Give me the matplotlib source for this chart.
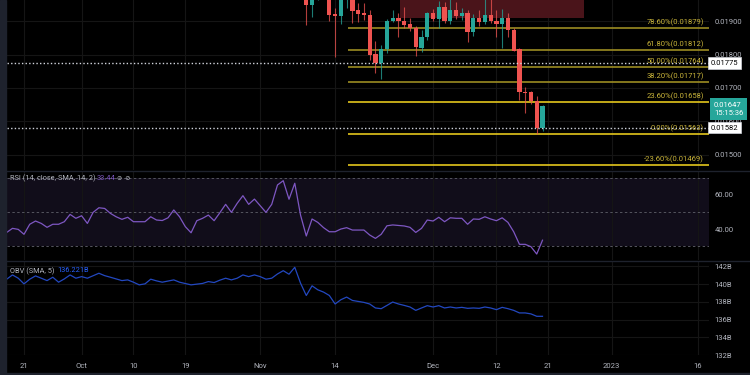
import numpy as np
import pandas as pd
import matplotlib
matplotlib.use("Agg")
import matplotlib.pyplot as plt
import matplotlib.dates as mdates
from matplotlib.patches import Rectangle

plt.rcParams['font.family'] = ['Roboto', 'DejaVu Sans']

# indicadores diarios, 2022-09-18 .. 2022-12-20
dias = pd.date_range("2022-09-18", "2022-12-20", freq="D")
rsi = [38.0, 40.4, 39.8, 36.9, 42.8, 44.7, 43.3, 41.0, 42.8, 42.8,
       44.3, 48.6, 46.3, 47.8, 43.3, 49.8, 52.5, 52.1, 49.2, 47.2,
       45.7, 46.9, 44.3, 44.3, 44.3, 47.2, 45.3, 45.0, 46.6, 51.2,
       47.2, 41.4, 37.8, 44.9, 46.3, 48.2, 44.9, 49.6, 54.5, 49.8,
       55.1, 59.6, 54.5, 57.6, 53.7, 49.8, 54.5, 65.9, 68.4, 57.5,
       66.9, 48.2, 35.9, 45.9, 43.9, 40.8, 38.4, 38.4, 40.0, 40.8,
       39.4, 39.4, 39.4, 36.5, 34.5, 36.9, 41.9, 42.4, 42.1, 41.8,
       41.0, 38.0, 40.4, 45.3, 44.7, 46.9, 44.3, 46.6, 46.3, 46.3,
       42.8, 45.9, 45.7, 47.2, 45.9, 44.9, 46.6, 43.9, 38.4, 31.0,
       31.0, 29.6, 25.3, 33.44]
obv = [140.56, 141.04, 140.67, 140.03, 140.56, 140.93, 140.67, 140.40, 140.78, 140.22,
       140.59, 141.04, 140.67, 140.85, 140.67, 140.95, 141.23, 140.96, 140.78, 140.59,
       140.40, 140.48, 140.22, 139.92, 140.03, 140.56, 140.37, 140.22, 140.35, 140.48,
       140.22, 140.07, 139.92, 140.00, 140.08, 140.29, 140.18, 140.45, 140.67, 140.48,
       140.67, 141.04, 140.85, 141.04, 140.85, 140.56, 140.67, 141.15, 141.52, 141.12,
       141.90, 140.11, 138.72, 139.81, 139.36, 139.10, 138.72, 137.76, 138.24, 138.54,
       138.16, 138.05, 137.94, 137.76, 137.31, 137.23, 137.60, 137.98, 137.76, 137.60,
       137.42, 137.04, 137.31, 137.57, 137.42, 137.57, 137.31, 137.42, 137.31, 137.38,
       137.27, 137.31, 137.27, 137.42, 137.31, 137.12, 137.38, 137.23, 137.04, 136.75,
       136.75, 136.64, 136.37, 136.37]

# velas (antes del 9 nov quedan por encima del panel)
velas = pd.date_range("2022-11-09", "2022-12-20", freq="D")
apertura = [.01975, .01948, .01970, .01982, .01972, .01921, .01915, .01966, .01975, .01933,
            .01923, .01918, .01801, .01774, .01816, .01901, .01910, .01900, .01890, .01878,
            .01820, .01851, .01923, .01905, .01943, .01901, .01933, .01916, .01923, .01866,
            .01908, .01898, .01918, .01901, .01891, .01910, .01873, .01816, .01689, .01687,
            .01662, .01582]
maximo = [.01985, .01990, .01995, .01992, .01985, .01940, .01975, .01990, .01985, .01953,
          .01953, .01933, .01840, .01828, .01905, .01933, .01923, .01943, .01908, .01885,
          .01873, .01928, .01935, .01960, .01958, .01965, .01958, .01939, .01933, .01921,
          .01933, .01968, .01965, .01933, .01935, .01923, .01879, .01819, .01702, .01691,
          .01677, .01649]
minimo = [.01888, .01911, .01964, .01966, .01901, .01793, .01891, .01939, .01893, .01898,
          .01903, .01784, .01744, .01727, .01804, .01897, .01853, .01878, .01870, .01796,
          .01808, .01843, .01900, .01878, .01894, .01890, .01906, .01903, .01838, .01855,
          .01885, .01890, .01894, .01852, .01819, .01853, .01810, .01664, .01625, .01651,
          .01563, .01573]
cierre = [.01948, .01970, .01982, .01972, .01918, .01916, .01966, .01978, .01931, .01920,
          .01917, .01799, .01774, .01816, .01901, .01910, .01900, .01888, .01878, .01822,
          .01853, .01923, .01905, .01943, .01901, .01933, .01916, .01923, .01866, .01908,
          .01898, .01918, .01901, .01891, .01910, .01873, .01811, .01687, .01686, .01662,
          .01582, .01647]

fib_nivel = [0.786, 0.618, 0.5, 0.382, 0.236, 0.0, -0.236]
fib_precio = [0.01879, 0.01812, 0.01764, 0.01717, 0.01658, 0.01563, 0.01469]
fib_inicio = "2022-11-16 06:00"

zona = ("2022-11-25 05:00", "2022-12-27 05:00", 0.01908, 0.0200)
lineas_punteadas = [0.01775, 0.01582]
precio_actual = 0.01647
hora = "15:15:36"

fechas_tick = ["2022-09-21", "2022-10-01", "2022-10-10", "2022-10-19", "2022-11-01",
               "2022-11-14", "2022-12-01", "2022-12-12", "2022-12-21", "2023-01-01",
               "2023-01-16"]
etiquetas_tick = ["21", "Oct", "10", "19", "Nov", "14", "Dec", "12", "21", "2023", "16"]

verde = "#26a69a"
rojo = "#ef5350"
gris = "#b2b5be"
rejilla = "#151515"

W, H = 750, 375
def caja(x0, y0, x1, y1):
    return [x0 / W, 1 - y1 / H, (x1 - x0) / W, (y1 - y0) / H]

fig = plt.figure(figsize=(7.5, 3.75), dpi=100, facecolor="black")
ax = fig.add_axes(caja(7, 0, 709, 170))
ax_rsi = fig.add_axes(caja(7, 171, 709, 260), sharex=ax)
ax_obv = fig.add_axes(caja(7, 262, 709, 355), sharex=ax)

base = mdates.date2num(pd.Timestamp("2022-09-21"))
xt = mdates.date2num(pd.to_datetime(fechas_tick))

for a in (ax, ax_rsi, ax_obv):
    a.set_facecolor("black")
    for s in a.spines.values():
        s.set_visible(False)
    a.yaxis.tick_right()
    a.tick_params(length=0, colors=gris, labelsize=5.5, pad=4)
    a.set_xticks(xt)
    a.grid(axis="x", color=rejilla, lw=0.8)
    a.set_axisbelow(True)
ax.set_xlim(base - 2.95, base + 118.9)
ax.tick_params(labelbottom=False)
ax_rsi.tick_params(labelbottom=False)
ax_obv.set_xticklabels(etiquetas_tick)
ax_obv.tick_params(axis="x", pad=6)

# panel de precio
xv = mdates.date2num(velas)
o = np.array(apertura); c = np.array(cierre)
hi = np.array(maximo); lo = np.array(minimo)
col = np.where(c >= o, verde, rojo)
ax.vlines(xv, lo, hi, color=col, lw=0.8, alpha=0.75, zorder=3)
ax.bar(xv, np.maximum(np.abs(c - o), 0.00003), bottom=np.minimum(o, c), width=0.74,
       color=col, zorder=4)

ax.set_ylim(0.014552, 0.019627)
ax.set_yticks([0.015, 0.016, 0.017, 0.018, 0.019])
ax.set_yticklabels([f"{v:.5f}" for v in ax.get_yticks()])
ax.grid(axis="y", color=rejilla, lw=0.8)

z0, z1 = mdates.date2num(pd.to_datetime(zona[:2]))
ax.add_patch(Rectangle((z0, zona[2]), z1 - z0, zona[3] - zona[2], color="#4a141a",
                       lw=0, zorder=2))

x_fib = mdates.date2num(pd.Timestamp(fib_inicio))
x_fin = ax.get_xlim()[1]
for n, p in zip(fib_nivel, fib_precio):
    cf = "#e3c61c" if n < 0.3 else "#9c8c22"
    ax.plot([x_fib, x_fin], [p, p], color=cf, lw=1.2, zorder=2, solid_capstyle="butt")
    ax.annotate(f"{n * 100:.2f}%({p:.5f})", xy=(x_fin, p), xytext=(-5, 2),
                textcoords="offset pixels", ha="right", va="bottom", color="#c9b43a",
                fontsize=5.5, zorder=5)

for p in lineas_punteadas:
    ax.axhline(p, color="#d1d4dc", lw=1, ls=(0, (1, 1.6)), zorder=5)
    ax.text(1.002, p, f"{p:.5f}", transform=ax.get_yaxis_transform(), ha="left",
            va="center", fontsize=5.5, color="black", clip_on=False, zorder=6,
            bbox=dict(boxstyle="square,pad=0.35", fc="white", ec="#d1d4dc", lw=0.5))

ax.annotate(f"{precio_actual:.5f}\n{hora}", xy=(1.0, precio_actual),
            xycoords=ax.get_yaxis_transform(), xytext=(5, 4), textcoords="offset pixels",
            ha="left", va="top", fontsize=5.5, color="white", linespacing=1.35,
            annotation_clip=False, zorder=7,
            bbox=dict(boxstyle="square,pad=0.55", fc=verde, ec="none"))

# RSI
xd = mdates.date2num(dias)
ax_rsi.set_ylim(21.8, 74.1)
ax_rsi.axhspan(30, 70, color="#110d1a", lw=0, zorder=0)
for v in (70, 50, 30):
    ax_rsi.axhline(v, color="#55555f", lw=0.7, ls=(0, (2.5, 2.5)), zorder=1)
ax_rsi.plot(xd, rsi, color="#7e57c2", lw=0.9, zorder=3)
ax_rsi.set_yticks([40, 60])
ax_rsi.set_yticklabels(["40.00", "60.00"])

fig.text(10 / W, 1 - 178 / H, "RSI (14, close, SMA, 14, 2)", color=gris, fontsize=5.3,
         va="center")
fig.text(97 / W, 1 - 178 / H, f"{rsi[-1]:.2f}", color="#7e57c2", fontsize=5.3, va="center")
fig.text(117 / W, 1 - 178 / H, "⊘  ⊘", color=gris, fontsize=4.5, va="center")

# OBV
ax_obv.plot(xd, obv, color="#2348c0", lw=0.9, zorder=3)
ax_obv.set_ylim(132.08, 142.5)
ax_obv.set_yticks([132, 134, 136, 138, 140, 142])
ax_obv.set_yticklabels([f"{v}B" for v in [132, 134, 136, 138, 140, 142]])
ax_obv.grid(axis="y", color=rejilla, lw=0.8)
fig.text(10 / W, 1 - 271 / H, "OBV (SMA, 5)", color=gris, fontsize=5.3, va="center")
fig.text(57 / W, 1 - 271 / H, "136.221B", color="#2962ff", fontsize=5.3, va="center")

# bordes y separadores
fig.patches.append(Rectangle((0, 0), 6 / W, 1, transform=fig.transFigure, color="#1e222d",
                             zorder=0))
fig.patches.append(Rectangle((0, 0), 1, 2 / H, transform=fig.transFigure, color="#1e222d",
                             zorder=0))
for yy in (170.5, 261):
    fig.add_artist(plt.Line2D([6 / W, 1], [1 - yy / H] * 2, color="#1e222d", lw=1))

fig.savefig("out.png", dpi=100, facecolor=fig.get_facecolor())
